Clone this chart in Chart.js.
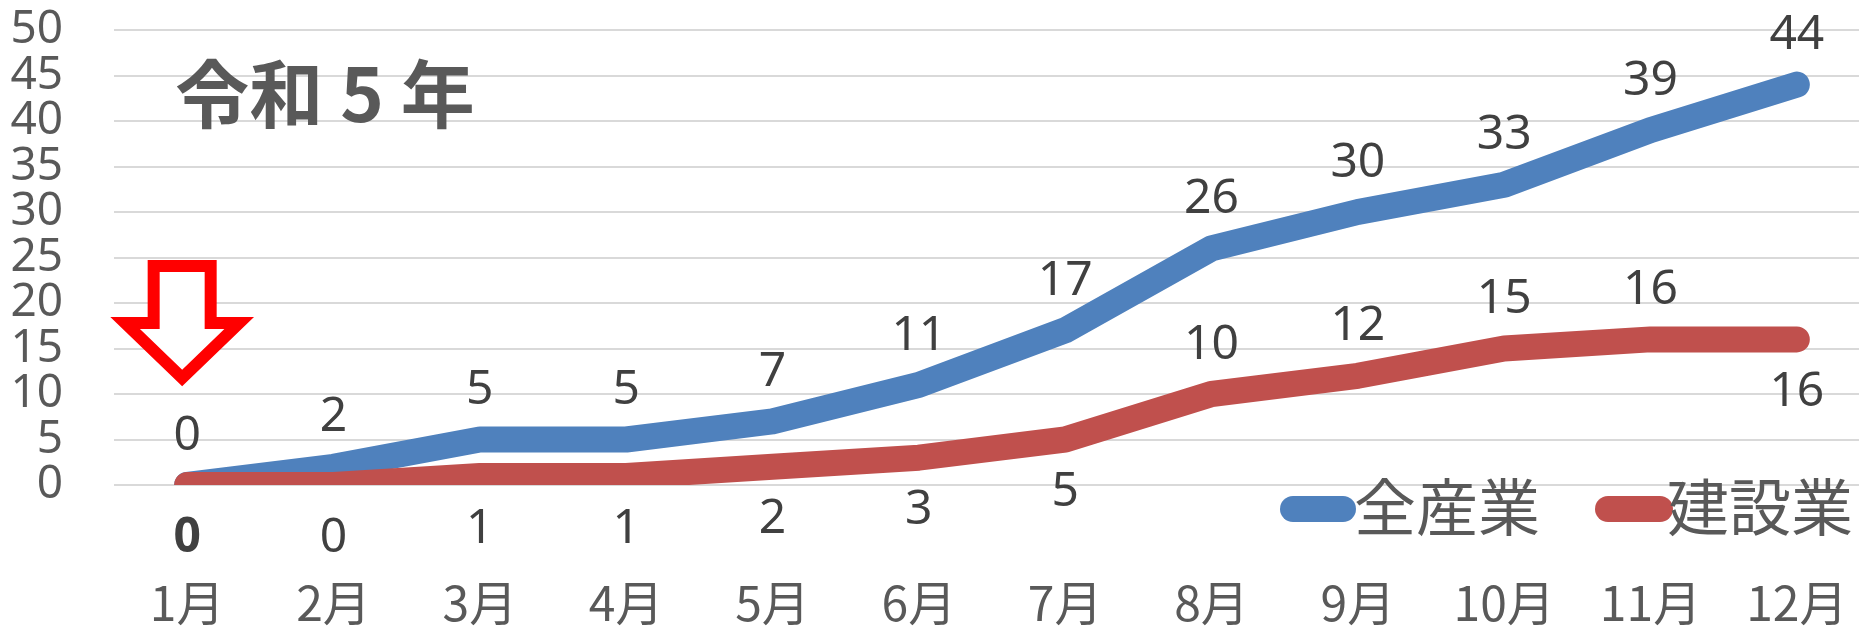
<!DOCTYPE html>
<html>
<head>
<meta charset="utf-8">
<script src="https://cdn.jsdelivr.net/npm/chart.js@4.4.1/dist/chart.umd.min.js"></script>
<style>
  html, body { margin: 0; padding: 0; background: #ffffff; overflow: hidden; }
  #wrap { width: 1880px; height: 627px; }
</style>
</head>
<body>
<div id="wrap"><canvas id="c" width="1880" height="627"></canvas></div>
<script>
// ---- data ----
const months = ['1月','2月','3月','4月','5月','6月','7月','8月','9月','10月','11月','12月'];
const allIndustry = [0, 2, 5, 5, 7, 11, 17, 26, 30, 33, 39, 44];
const construction = [0, 0, 1, 1, 2, 3, 5, 10, 12, 15, 16, 16];
const seriesNames = ['全産業', '建設業'];
const yTicks = [0, 5, 10, 15, 20, 25, 30, 35, 40, 45, 50];
const titleText = '令和 5 年';
// label placement per point (above / below)
const allIndustryLabelPos = ['above','above','above','above','above','above','above','above','above','above','above','above'];
const constructionLabelPos = ['below','below','below','below','below','below','below','above','above','above','above','below'];

const FONT = "'Noto Sans', 'Noto Sans CJK JP', sans-serif";
const CJK = "'Noto Sans CJK JP', 'Noto Sans', sans-serif";
const BLUE = '#4F81BD';
const RED = '#C0504D';

const labelPlugin = {
  id: 'pointLabels',
  afterDatasetsDraw(chart) {
    const ctx = chart.ctx;
    ctx.save();
    ctx.textAlign = 'center';
    ctx.textBaseline = 'middle';
    ctx.fillStyle = '#404040';
    chart.data.datasets.forEach((ds, di) => {
      const meta = chart.getDatasetMeta(di);
      const pos = ds.labelPos;
      meta.data.forEach((pt, i) => {
        const bold = (di === 1 && i === 0);
        ctx.font = (bold ? 'bold ' : '') + '48px ' + FONT;
        const off = pos[i] === 'above' ? -49 : 53;
        ctx.fillText(String(ds.data[i]), pt.x, pt.y + off);
      });
    });
    ctx.restore();
  }
};

const decorPlugin = {
  id: 'decor',
  afterDraw(chart) {
    const ctx = chart.ctx;
    const xs = chart.scales.x, ys = chart.scales.y;
    ctx.save();
    // title
    ctx.fillStyle = '#595959';
    ctx.font = 'bold 74px ' + CJK;
    ctx.textAlign = 'center';
    ctx.textBaseline = 'middle';
    ctx.fillText(titleText, 325, 94);

    // red hollow arrow pointing at January
    const tx = xs.getPixelForValue(0) - 5;
    const ty = ys.getPixelForValue(0) - 107;
    ctx.beginPath();
    ctx.moveTo(tx - 28.5, ty - 112);
    ctx.lineTo(tx + 28.5, ty - 112);
    ctx.lineTo(tx + 28.5, ty - 55);
    ctx.lineTo(tx + 57, ty - 55);
    ctx.lineTo(tx, ty);
    ctx.lineTo(tx - 57, ty - 55);
    ctx.lineTo(tx - 28.5, ty - 55);
    ctx.closePath();
    ctx.fillStyle = '#ffffff';
    ctx.fill();
    ctx.lineWidth = 12;
    ctx.lineJoin = 'miter';
    ctx.miterLimit = 10;
    ctx.strokeStyle = '#FF0000';
    ctx.stroke();

    // legend
    const legendY = 509;
    const items = [
      { color: BLUE, x0: 1293, x1: 1343, tx: 1354, text: seriesNames[0] },
      { color: RED, x0: 1608, x1: 1660, tx: 1667, text: seriesNames[1] }
    ];
    items.forEach(it => {
      ctx.beginPath();
      ctx.lineCap = 'round';
      ctx.lineWidth = 26;
      ctx.strokeStyle = it.color;
      ctx.moveTo(it.x0, legendY);
      ctx.lineTo(it.x1, legendY);
      ctx.stroke();
      ctx.fillStyle = '#595959';
      ctx.font = '62px ' + CJK;
      ctx.textAlign = 'left';
      ctx.textBaseline = 'middle';
      ctx.fillText(it.text, it.tx, legendY - 2);
    });
    ctx.restore();
  }
};

new Chart(document.getElementById('c'), {
  type: 'line',
  data: {
    labels: months,
    datasets: [
      {
        label: seriesNames[0],
        data: allIndustry,
        labelPos: allIndustryLabelPos,
        borderColor: BLUE,
        backgroundColor: BLUE,
        borderWidth: 26,
        borderCapStyle: 'round',
        borderJoinStyle: 'round',
        pointRadius: 0,
        tension: 0,
        clip: 0,
        order: 1
      },
      {
        label: seriesNames[1],
        data: construction,
        labelPos: constructionLabelPos,
        borderColor: RED,
        backgroundColor: RED,
        borderWidth: 26,
        borderCapStyle: 'round',
        borderJoinStyle: 'round',
        pointRadius: 0,
        tension: 0,
        clip: 0,
        order: 0
      }
    ]
  },
  options: {
    responsive: false,
    animation: false,
    devicePixelRatio: 1,
    layout: { padding: { left: 0, right: 10, top: 30, bottom: 0 } },
    plugins: { legend: { display: false }, tooltip: { enabled: false }, title: { display: false } },
    scales: {
      x: {
        type: 'category',
        offset: true,
        grid: { display: false, drawTicks: false },
        border: { display: false },
        ticks: {
          color: '#595959',
          font: { family: CJK, size: 48 },
          padding: 89,
          maxRotation: 0,
          autoSkip: false
        },
        afterFit(s) { s.height = 142; s.paddingLeft = 0; s.paddingRight = 0; }
      },
      y: {
        min: 0,
        max: 50,
        afterBuildTicks(s) { s.ticks = yTicks.map(v => ({ value: v })); },
        grid: { color: '#D9D9D9', lineWidth: 2, drawTicks: false },
        border: { display: false },
        ticks: {
          color: '#595959',
          font: { family: FONT, size: 46, lineHeight: 1.0 },
          padding: 51,
          autoSkip: false
        },
        afterFit(s) { s.width = 114; s.paddingTop = 0; s.paddingBottom = 0; }
      }
    }
  },
  plugins: [labelPlugin, decorPlugin]
});
</script>
</body>
</html>
